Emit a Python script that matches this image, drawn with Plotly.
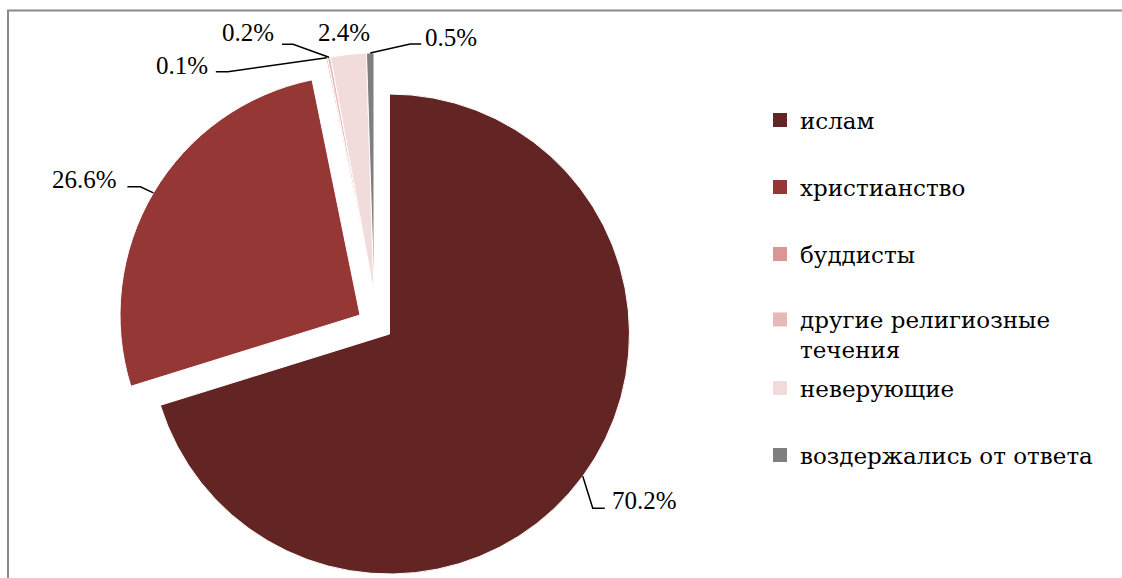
import math
import plotly.graph_objects as go

# ---------------- data ----------------
categories = ["ислам", "христианство", "буддисты", "другие религиозные течения",
              "неверующие", "воздержались от ответа"]
legend_names = ["ислам", "христианство", "буддисты", "другие религиозные<br>течения",
                "неверующие", "воздержались от ответа"]
shares = [70.2, 26.6, 0.1, 0.2, 2.4, 0.5]
colors = ["#632523", "#953735", "#D99694", "#E6B9B8", "#F2DCDB", "#7F7F7F"]
# which exploded piece each slice belongs to
piece_of = [0, 1, 2, 2, 2, 2]

# ---------------- layout constants (pixels) ----------------
W, H = 1122, 578
R = 240
piece_center = {0: (389.5, 334.0), 1: (360.0, 315.0), 2: (374.0, 293.0)}
FONT = "Liberation Serif"
FS = 25
LEG_FONT = "DejaVu Serif"
LEG_FS = 23

# label placement relative to slice arc midpoint:
# (elbow_dx, elbow_dy, end_dx, text_dx, text_dy, xanchor, draw_line)
label_layout = [
    (10, 32, 22, 27, 24, "left", True),
    (-13, -6, -26, -34, -13, "right", True),
    (-99, 14, -111, -117, 8, "right", True),
    (-36, -13, -47, -53, -25, "right", True),
    (0, 0, 0, -4, -22, "center", False),
    (40, -9, 51, 53, -16, "left", True),
]


def px_to_paper(x, y):
    return x / W, 1 - y / H


fig = go.Figure()

total = sum(shares)
# one pie trace per exploded piece, sharing the same radius
for g, (cx, cy) in piece_center.items():
    x0, y1 = px_to_paper(cx - R, cy - R)
    x1, y0 = px_to_paper(cx + R, cy + R)
    cols = [c if p == g else "rgba(0,0,0,0)" for c, p in zip(colors, piece_of)]
    lw = [1 if p == g else 0 for p in piece_of]
    lc = ["white" if p == g else "rgba(0,0,0,0)" for p in piece_of]
    fig.add_trace(go.Pie(
        labels=categories, values=shares, sort=False, direction="clockwise",
        rotation=0, textinfo="none", hoverinfo="label+percent",
        marker=dict(colors=cols, line=dict(color=lc, width=lw)),
        domain=dict(x=[x0, x1], y=[y0, y1]), showlegend=False,
    ))

# labels and leader lines computed from slice geometry
shapes = []
annotations = []
cum = 0.0
for i, v in enumerate(shares):
    mid = (cum + v / 2) / total * 360.0
    cum += v
    cx, cy = piece_center[piece_of[i]]
    ax = cx + R * math.sin(math.radians(mid))
    ay = cy - R * math.cos(math.radians(mid))
    edx, edy, endx, tdx, tdy, xa, draw = label_layout[i]
    if draw:
        pts = [(ax, ay), (ax + edx, ay + edy), (ax + endx, ay + edy)]
        path = ""
        for k, (x, y) in enumerate(pts):
            px, py = px_to_paper(x, y)
            path += ("M" if k == 0 else " L") + f"{px:.5f},{py:.5f}"
        shapes.append(dict(type="path", xref="paper", yref="paper", path=path,
                           line=dict(color="black", width=1.5)))
    tx, ty = px_to_paper(ax + tdx, ay + tdy)
    annotations.append(dict(x=tx, y=ty, xref="paper", yref="paper",
                            text=f"{v:.1f}%", showarrow=False, xanchor=xa,
                            yanchor="middle",
                            font=dict(family=FONT, size=FS, color="black")))

# chart-area border (runs off the right and bottom edges)
bx0, by1 = px_to_paper(8, 10.5)
shapes.append(dict(type="rect", xref="paper", yref="paper", x0=bx0, x1=1.2,
                   y0=-0.2, y1=by1, line=dict(color="#8A8A8A", width=2),
                   fillcolor="rgba(0,0,0,0)", layer="below"))

# legend: one entry per legend box for exact vertical spacing
legend_y = [120, 187, 254, 320, 388, 455]
legend_x = 760
layout_legends = {}
for i, name in enumerate(legend_names):
    key = "legend" if i == 0 else f"legend{i + 1}"
    fig.add_trace(go.Scatter(
        x=[None], y=[None], mode="markers", name=name, legend=key,
        marker=dict(symbol="square", size=14, color=colors[i]),
        showlegend=True, hoverinfo="skip",
    ))
    lx, ly = px_to_paper(legend_x, legend_y[i])
    multi = "<br>" in name
    layout_legends[key] = dict(
        x=lx, y=ly, xanchor="left", yanchor="middle" if not multi else "top",
        valign="top" if multi else "middle",
        bgcolor="rgba(0,0,0,0)", borderwidth=0,
        font=dict(family=LEG_FONT, size=LEG_FS, color="black"),
    )
    if multi:
        layout_legends[key]["y"] = px_to_paper(0, legend_y[i] - 22)[1]

fig.update_layout(
    width=W, height=H, autosize=False,
    margin=dict(l=0, r=0, t=0, b=0),
    font=dict(family=FONT, size=FS, color="black"),
    paper_bgcolor="white", plot_bgcolor="rgba(0,0,0,0)",
    xaxis=dict(visible=False), yaxis=dict(visible=False),
    shapes=shapes, annotations=annotations,
    **layout_legends,
)

fig.write_html("out.html", config={"displayModeBar": False},
               post_script="document.body.style.margin='0';document.body.style.overflow='hidden';")
